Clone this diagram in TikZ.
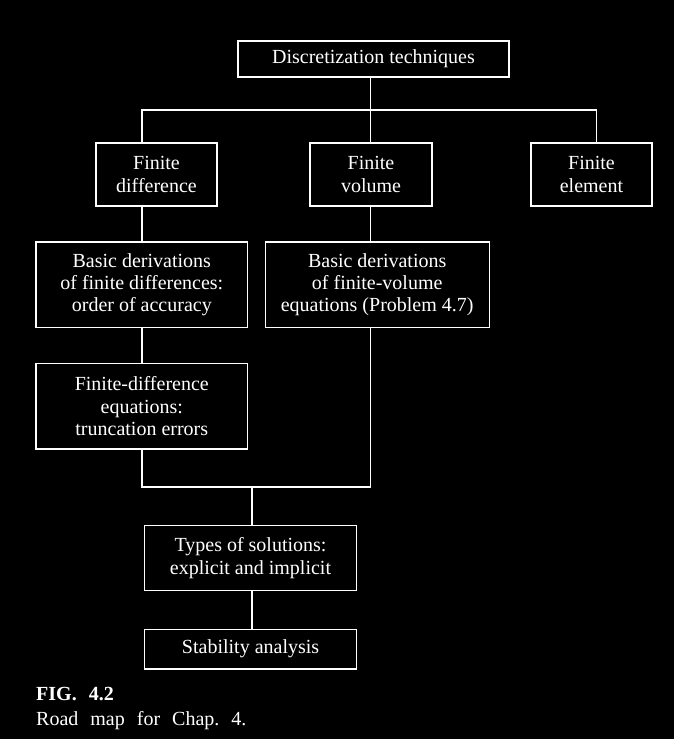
\documentclass[tikz,border=0pt]{standalone}
\usepackage{fontspec}
\setmainfont{Liberation Serif}
\begin{document}
\begin{tikzpicture}[x=1pt,y=-1pt,
  box/.style={draw=white,line width=1.2pt,text=white,align=center,inner sep=0pt,
    font=\fontsize{20}{22.3}\selectfont},
  conn/.style={draw=white,line width=1.2pt}]
\fill[black] (0,0) rectangle (674,739);
\useasboundingbox (0,0) rectangle (674,739);
\node[box,minimum width=271pt,minimum height=36pt] (top) at (373.5,59) {Discretization techniques};
\node[box,minimum width=121pt,minimum height=63pt] (fd) at (156.5,174.5) {Finite\\difference};
\node[box,minimum width=122pt,minimum height=63pt] (fv) at (371,174.5) {Finite\\volume};
\node[box,minimum width=121pt,minimum height=63pt] (fe) at (591.5,174.5) {Finite\\element};
\node[box,minimum width=211.6pt,minimum height=85.3pt] (bfd) at (141.8,284.7) {Basic derivations\\of finite differences:\\order of accuracy};
\node[box,minimum width=224pt,minimum height=85.3pt] (bfv) at (377.2,284.7) {Basic derivations\\of finite-volume\\equations (Problem 4.7)};
\node[box,minimum width=211.6pt,minimum height=85.3pt] (fde) at (141.8,406.3) {Finite-difference\\equations:\\truncation errors};
\node[box,minimum width=212pt,minimum height=65pt] (types) at (250.5,558.2) {Types of solutions:\\explicit and implicit};
\node[box,minimum width=212pt,minimum height=39.7pt] (stab) at (250.6,649.2) {Stability analysis};
\coordinate (cL) at (142,110);
\coordinate (cM) at (370.5,110);
\coordinate (cR) at (596.5,110);
\coordinate (jB) at (252,487);
\draw[conn] (top.south -| cM) -- (cM);
\draw[conn] (fd.north -| cL) -- (cL) -- (cR) -- (fe.north -| cR);
\draw[conn] (fv.north -| cM) -- (cM);
\draw[conn] (fd.south -| cL) -- (bfd.north -| cL);
\draw[conn] (fv.south -| cM) -- (bfv.north -| cM);
\draw[conn] (bfd.south -| cL) -- (fde.north -| cL);
\draw[conn] (fde.south -| cL) |- (jB);
\draw[conn] (bfv.south -| cM) |- (jB);
\draw[conn] (jB) -- (types.north -| jB);
\draw[conn] (types.south -| jB) -- (stab.north -| jB);
\node[anchor=base west,inner sep=0pt,text=white,font=\fontsize{20}{22}\selectfont\bfseries] (fig) at (36,700) {\frenchspacing\spaceskip=12pt\relax FIG. 4.2};
\node[anchor=base west,inner sep=0pt,text=white,font=\fontsize{20}{22}\selectfont] (cap) at (36,725) {\frenchspacing\spaceskip=12pt\relax Road map for Chap. 4.};
\end{tikzpicture}
\end{document}
